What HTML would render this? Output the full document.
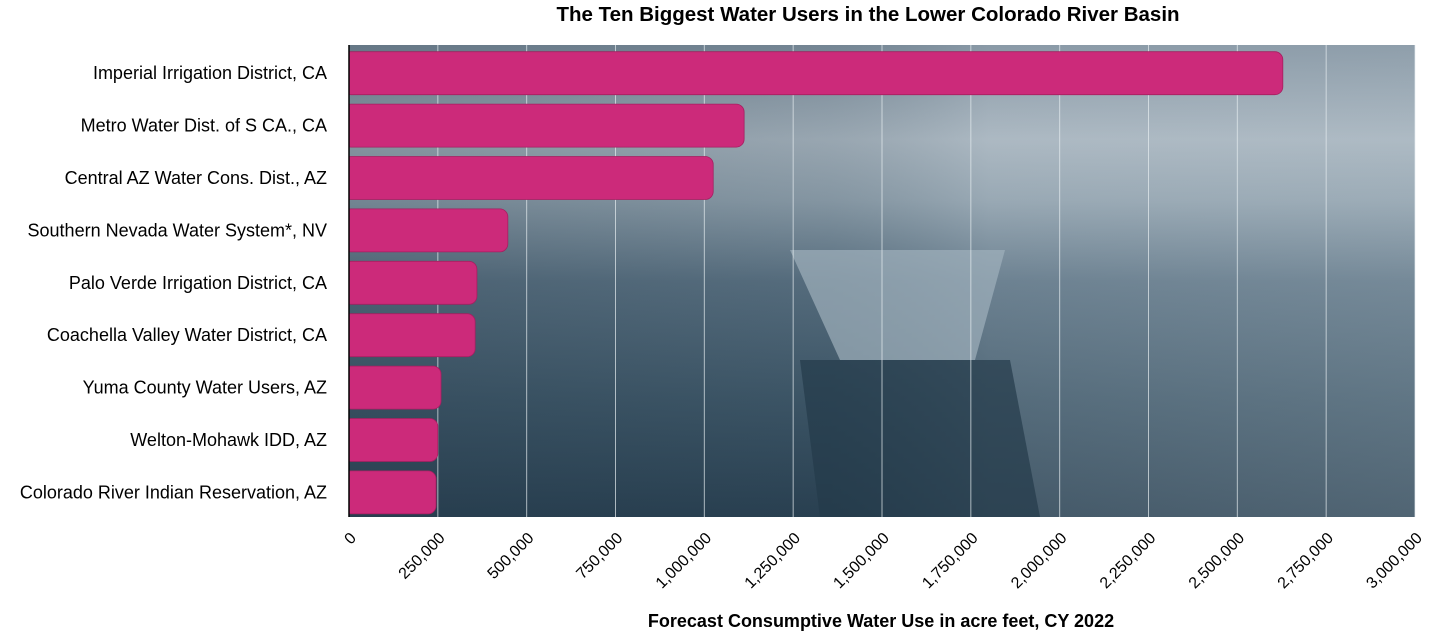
<!DOCTYPE html>
<html><head><meta charset="utf-8"><style>
body{margin:0;background:#fff;font-family:"Liberation Sans",Arial,sans-serif;}
</style></head><body>
<svg width="1456" height="633" xmlns="http://www.w3.org/2000/svg">
<defs>
<linearGradient id="bg" x1="0" y1="0" x2="0" y2="1">
<stop offset="0" stop-color="#7d8e9c"/>
<stop offset="0.2" stop-color="#a6b3bd"/>
<stop offset="0.33" stop-color="#8fa0ac"/>
<stop offset="0.5" stop-color="#5b7283"/>
<stop offset="0.75" stop-color="#3f5869"/>
<stop offset="1" stop-color="#2a4152"/>
</linearGradient>
<linearGradient id="bgx" x1="0" y1="0" x2="1" y2="0">
<stop offset="0" stop-color="#1e3343" stop-opacity="0.25"/>
<stop offset="0.45" stop-color="#1e3343" stop-opacity="0.1"/>
<stop offset="0.6" stop-color="#d0dae2" stop-opacity="0.15"/>
<stop offset="1" stop-color="#c4d0d8" stop-opacity="0.25"/>
</linearGradient>
</defs>
<text x="868" y="21" text-anchor="middle" font-size="20.5" font-weight="bold" fill="#000">The Ten Biggest Water Users in the Lower Colorado River Basin</text>
<rect x="349" y="45" width="1066" height="472" fill="url(#bg)"/>
<rect x="349" y="45" width="1066" height="472" fill="url(#bgx)"/>
<polygon points="790,250 1005,250 975,360 840,360" fill="#9fb0bc" opacity="0.7"/>
<polygon points="800,360 1010,360 1040,517 820,517" fill="#243a4a" opacity="0.7"/>
<g id="grid"></g>
<g id="bars"></g>
<g id="labels"></g>
<g id="ticks"></g>
<line x1="349" y1="45" x2="349" y2="517" stroke="#000" stroke-width="1.5"/>
<text x="881" y="627" text-anchor="middle" font-size="18" font-weight="bold" fill="#000">Forecast Consumptive Water Use in acre feet, CY 2022</text>
</svg>
<script>
const categories=["Imperial Irrigation District, CA","Metro Water Dist. of S CA., CA","Central AZ Water Cons. Dist., AZ","Southern Nevada Water System*, NV","Palo Verde Irrigation District, CA","Coachella Valley Water District, CA","Yuma County Water Users, AZ","Welton-Mohawk IDD, AZ","Colorado River Indian Reservation, AZ"];
const values=[2628000,1112000,1025000,447000,360000,355000,259000,250000,245000];
const tickValues=[0,250000,500000,750000,1000000,1250000,1500000,1750000,2000000,2250000,2500000,2750000,3000000];
const NS="http://www.w3.org/2000/svg";
const x0=349,x1=1415,maxV=3000000,plotTop=45,band=52.4;
const xs=v=>x0+(v/maxV)*(x1-x0);
const gridG=document.getElementById('grid'),barsG=document.getElementById('bars'),labelsG=document.getElementById('labels'),ticksG=document.getElementById('ticks');
tickValues.forEach(t=>{
  const X=xs(t);
  if(t>0){const l=document.createElementNS(NS,'line');
  l.setAttribute('x1',X);l.setAttribute('x2',X);l.setAttribute('y1',plotTop);l.setAttribute('y2',517);
  l.setAttribute('stroke','#e6ecf0');l.setAttribute('stroke-opacity','0.7');l.setAttribute('stroke-width','1');
  
  
  gridG.appendChild(l);}
  const tx=document.createElementNS(NS,'text');
  tx.setAttribute('transform','translate('+(X+8)+',539) rotate(-45)');
  tx.setAttribute('text-anchor','end');tx.setAttribute('font-size','16');tx.setAttribute('fill','#000');
  tx.textContent=t.toLocaleString('en-US');
  
  
  ticksG.appendChild(tx);
});
const cov=document.createElementNS(NS,'rect');
categories.forEach((c,i)=>{
  const cy=plotTop+band*(i+0.5)+2;
  const r=document.createElementNS(NS,'rect');
  r.setAttribute('x',x0-6);r.setAttribute('y',cy-21.5);r.setAttribute('height',43);
  r.setAttribute('width',xs(values[i])-x0+6);r.setAttribute('rx',8);
  r.setAttribute('fill','#cc2a7a');r.setAttribute('stroke','#a51f60');r.setAttribute('stroke-width','0.8');
  
  
  barsG.appendChild(r);
  const t=document.createElementNS(NS,'text');
  t.setAttribute('x',327);t.setAttribute('y',cy+6);t.setAttribute('text-anchor','end');
  t.setAttribute('font-size','18');t.setAttribute('fill','#000');
  t.textContent=c;
  
  
  labelsG.appendChild(t);
});
cov.setAttribute('x',340);cov.setAttribute('y',plotTop);cov.setAttribute('width',9);cov.setAttribute('height',472);cov.setAttribute('fill','#fff');


barsG.appendChild(cov);
</script>
</body></html>
